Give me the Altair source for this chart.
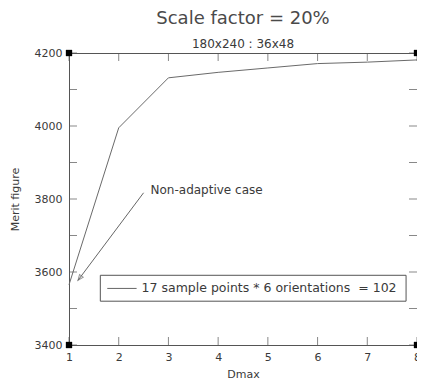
import altair as alt
import pandas as pd

# data
dmax = [1, 2, 3, 4, 5, 6, 7, 8]
merit = [3565, 3995, 4132, 4147, 4159, 4171, 4175, 4181]

x_ticks = [1, 2, 3, 4, 5, 6, 7, 8]
y_ticks = [3400, 3500, 3600, 3700, 3800, 3900, 4000, 4100, 4200]
y_labels = [3400, 3600, 3800, 4000, 4200]

corner_x = [1, 8, 1, 8]
corner_y = [3400, 3400, 4200, 4200]

# annotation: arrow from label to the non-adaptive point
arrow_x = [2.50, 1.18]
arrow_y = [3817, 3577]
note_text = "Non-adaptive case"
note_x = 2.64
note_y = 3825

# legend box
legend_box_x = [1.63, 7.78]
legend_box_y = [3520, 3591]
legend_line_x = [1.77, 2.36]
legend_line_y = 3555
legend_text = "17 sample points * 6 orientations\u00a0\u00a0= 102"
legend_text_x = 2.46

W, H = 348, 292
FONT = "DejaVu Sans"
GRAY = "#555555"
TXT = "#3a3a3a"

xs = alt.Scale(domain=[1, 8], nice=False, zero=False)
ys = alt.Scale(domain=[3400, 4200], nice=False, zero=False)

df = pd.DataFrame({"x": dmax, "y": merit})

line = alt.Chart(df).mark_line(color="#6a6a6a", strokeWidth=1).encode(
    x=alt.X("x:Q", scale=xs, title="Dmax",
            axis=alt.Axis(values=x_ticks, tickSize=0, labelPadding=6, format="d",
                          labelFont=FONT, labelFontSize=11, labelColor=TXT,
                          titleFont=FONT, titleFontSize=11, titleFontWeight="normal",
                          titleColor=TXT, titlePadding=6, domainColor=GRAY,
                          grid=False, labelFlush=False)),
    y=alt.Y("y:Q", scale=ys, title="Merit figure",
            axis=alt.Axis(values=y_labels, tickSize=0, labelPadding=7, format="d",
                          labelFont=FONT, labelFontSize=11, labelColor=TXT,
                          titleFont=FONT, titleFontSize=11, titleFontWeight="normal",
                          titleColor=TXT, titlePadding=14, domainColor=GRAY,
                          grid=False, labelFlush=False)),
)

xt = pd.DataFrame({"x": x_ticks})
yt = pd.DataFrame({"y": y_ticks})

tick_bottom = alt.Chart(xt).mark_tick(orient="vertical", color=GRAY, size=8, thickness=1).encode(
    x=alt.X("x:Q", scale=xs), y=alt.value(H - 4))
tick_top = alt.Chart(xt).mark_tick(orient="vertical", color=GRAY, size=8, thickness=1).encode(
    x=alt.X("x:Q", scale=xs), y=alt.value(4))
tick_left = alt.Chart(yt).mark_tick(orient="horizontal", color=GRAY, size=8, thickness=1).encode(
    y=alt.Y("y:Q", scale=ys), x=alt.value(4))
tick_right = alt.Chart(yt).mark_tick(orient="horizontal", color=GRAY, size=8, thickness=1).encode(
    y=alt.Y("y:Q", scale=ys), x=alt.value(W - 4))

corners = alt.Chart(pd.DataFrame({"x": corner_x, "y": corner_y})).mark_square(
    color="black", size=40, opacity=1).encode(
    x=alt.X("x:Q", scale=xs), y=alt.Y("y:Q", scale=ys))

arrow_df = pd.DataFrame({"x": [arrow_x[0]], "y": [arrow_y[0]], "x2": [arrow_x[1]], "y2": [arrow_y[1]]})
arrow = alt.Chart(arrow_df).mark_rule(color="#666666", strokeWidth=1).encode(
    x=alt.X("x:Q", scale=xs), y=alt.Y("y:Q", scale=ys), x2="x2:Q", y2="y2:Q")

head = alt.Chart(pd.DataFrame({"x": [arrow_x[1]], "y": [arrow_y[1]]})).mark_point(
    shape="M0,0 L-0.4,1 L0.4,1 Z", size=130, filled=False, color="#666666",
    strokeWidth=1, angle=217).encode(
    x=alt.X("x:Q", scale=xs), y=alt.Y("y:Q", scale=ys))

note = alt.Chart(pd.DataFrame({"x": [note_x], "y": [note_y], "t": [note_text]})).mark_text(
    align="left", baseline="middle", font=FONT, fontSize=12, color=TXT).encode(
    x=alt.X("x:Q", scale=xs), y=alt.Y("y:Q", scale=ys), text="t:N")

box = alt.Chart(pd.DataFrame({"x": [legend_box_x[0]], "x2": [legend_box_x[1]],
                              "y": [legend_box_y[0]], "y2": [legend_box_y[1]]})).mark_rect(
    fill="white", stroke="#555555", strokeWidth=1).encode(
    x=alt.X("x:Q", scale=xs), x2="x2:Q", y=alt.Y("y:Q", scale=ys), y2="y2:Q")

leg_line = alt.Chart(pd.DataFrame({"x": [legend_line_x[0]], "x2": [legend_line_x[1]],
                                   "y": [legend_line_y]})).mark_rule(
    color="#666666", strokeWidth=1).encode(
    x=alt.X("x:Q", scale=xs), x2="x2:Q", y=alt.Y("y:Q", scale=ys))

leg_text = alt.Chart(pd.DataFrame({"x": [legend_text_x], "y": [legend_line_y], "t": [legend_text]})).mark_text(
    align="left", baseline="middle", font=FONT, fontSize=12.5, color=TXT).encode(
    x=alt.X("x:Q", scale=xs), y=alt.Y("y:Q", scale=ys), text="t:N")

chart = alt.layer(
    line, tick_bottom, tick_top, tick_left, tick_right, arrow, head, note,
    box, leg_line, leg_text, corners
).properties(
    width=W, height=H,
    autosize=alt.AutoSizeParams(type="none"),
    padding={"left": 61, "top": 45, "right": 0, "bottom": 34},
    title=alt.TitleParams(
        "Scale factor = 20%", subtitle="180x240 : 36x48",
        font=FONT, fontSize=18, fontWeight="normal", color="#4a4a4a",
        subtitleFont=FONT, subtitleFontSize=12, subtitleColor=TXT,
        subtitlePadding=11, offset=-3, anchor="middle"),
).configure_view(stroke=GRAY, strokeWidth=1)

chart.save("out.html", embed_options={"renderer": "svg", "actions": False})
